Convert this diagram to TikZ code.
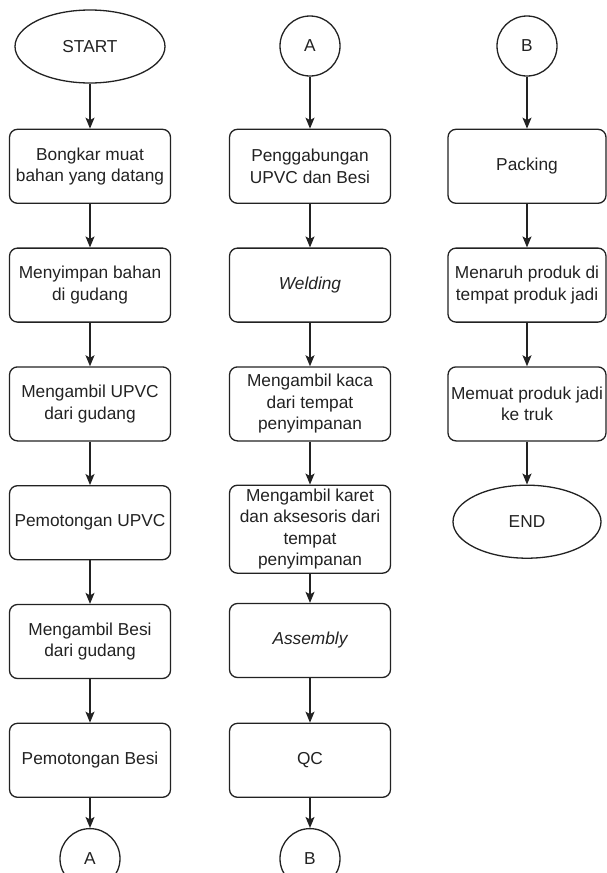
\documentclass[tikz,border=0pt]{standalone}
\usepackage{fontspec}
\setmainfont{Liberation Sans}
\usetikzlibrary{arrows.meta,positioning,shapes.geometric}
\definecolor{ink}{HTML}{222222}

\begin{document}
\begin{tikzpicture}[
  x=1pt, y=-1pt,
  font=\fontsize{17.3}{21.5}\selectfont,
  box/.style={draw=ink, rounded corners=8pt, line width=1.3pt, minimum width=161pt,
              minimum height=74pt, align=center, text=ink, inner sep=2pt},
  term/.style={draw=ink, ellipse, line width=1.3pt, minimum width=150pt,
               minimum height=73pt, text=ink},
  conn/.style={draw=ink, circle, line width=1.3pt, minimum size=60pt, text=ink},
  arr/.style={-{Stealth[length=11pt, width=9pt, inset=2.5pt]}, line width=1.3pt, ink},
  node distance=43.5pt
]
  \useasboundingbox (0,0) rectangle (607,873);

  % first column
  \node[term] (start) at (90,46.5) {START};
  \node[box, below=45pt of start] (bongkar) {Bongkar muat\\bahan yang datang};
  \node[box, below=of bongkar] (simpan) {Menyimpan bahan\\di gudang};
  \node[box, below=of simpan] (ambilupvc) {Mengambil UPVC\\dari gudang};
  \node[box, below=of ambilupvc] (potupvc) {Pemotongan UPVC};
  \node[box, below=of potupvc] (ambilbesi) {Mengambil Besi\\dari gudang};
  \node[box, below=of ambilbesi] (potbesi) {Pemotongan Besi};
  \node[conn, below=30pt of potbesi] (outa) {A};

  % second column
  \node[conn] (ina) at (310,46) {A};
  \node[box, below=52pt of ina] (gabung) {Penggabungan\\UPVC dan Besi};
  \node[box, below=of gabung] (weld) {\itshape Welding};
  \node[box, below=of weld] (kaca) {Mengambil kaca\\dari tempat\\penyimpanan};
  \node[box, below=43pt of kaca, minimum height=88pt] (karet) {Mengambil karet\\dan aksesoris dari\\tempat\\penyimpanan};
  \node[box, below=29pt of karet] (assy) {\itshape Assembly};
  \node[box, below=44.5pt of assy] (qc) {QC};
  \node[conn, below=30pt of qc] (outb) {B};

  % third column
  \node[conn] (inb) at (527,46) {B};
  \node[box, below=52pt of inb, minimum width=158pt] (pack) {Packing};
  \node[box, below=of pack, minimum width=158pt] (taruh) {Menaruh produk di\\tempat produk jadi};
  \node[box, below=of taruh, minimum width=158pt] (muat) {Memuat produk jadi\\ke truk};
  \node[term, below=43pt of muat, minimum width=148pt] (end) {END};

  \draw[arr] (start) -- (bongkar);
  \draw[arr] (bongkar) -- (simpan);
  \draw[arr] (simpan) -- (ambilupvc);
  \draw[arr] (ambilupvc) -- (potupvc);
  \draw[arr] (potupvc) -- (ambilbesi);
  \draw[arr] (ambilbesi) -- (potbesi);
  \draw[arr] (potbesi) -- (outa);

  \draw[arr] (ina) -- (gabung);
  \draw[arr] (gabung) -- (weld);
  \draw[arr] (weld) -- (kaca);
  \draw[arr] (kaca) -- (karet);
  \draw[arr] (karet) -- (assy);
  \draw[arr] (assy) -- (qc);
  \draw[arr] (qc) -- (outb);

  \draw[arr] (inb) -- (pack);
  \draw[arr] (pack) -- (taruh);
  \draw[arr] (taruh) -- (muat);
  \draw[arr] (muat) -- (end);
\end{tikzpicture}
\end{document}
